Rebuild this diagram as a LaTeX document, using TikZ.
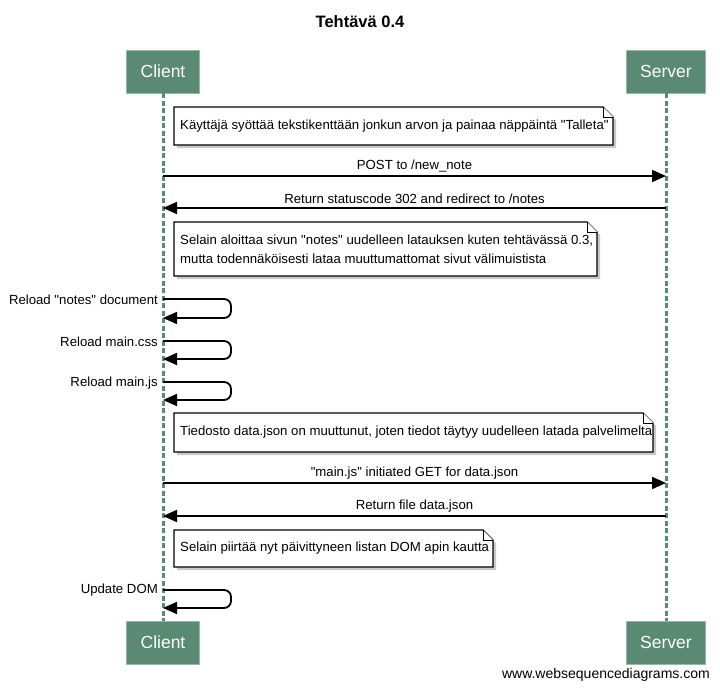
\documentclass[tikz,border=0pt]{standalone}
\usepackage{fontspec}
\setmainfont{Liberation Sans}[Ligatures=TeXOff]
\usetikzlibrary{arrows.meta,calc}
\definecolor{actorgreen}{RGB}{90,138,116}
\definecolor{actorborder}{RGB}{150,185,168}
\newcommand{\seqnote}[6]{%
  \coordinate (#1) at (#2,#3);
  \fill[notes shadow] ($(#1)+(3,3)$) -- ($(#1)+(#4+3-10,3)$) -- ($(#1)+(#4+3,13)$) -- ($(#1)+(#4+3,#5+3)$) -- ($(#1)+(3,#5+3)$) -- cycle;
  \filldraw[noteline] (#1) -- ($(#1)+(#4-10,0)$) -- ($(#1)+(#4,10)$) -- ($(#1)+(#4,#5)$) -- ($(#1)+(0,#5)$) -- cycle;
  \draw[noteline, line width=0.8pt] ($(#1)+(#4-10,0)$) -- ($(#1)+(#4-10,10)$) -- ($(#1)+(#4,10)$);
  \node[notetext] (#1t) at ($(#1)+(6,#5/2)$) {#6};
}
\begin{document}
\begin{tikzpicture}[x=1pt,y=-1pt,
  actor/.style={fill=actorgreen, draw=actorborder, line width=0.8pt, inner xsep=14pt, minimum height=43pt, text=white, font=\fontsize{17.5}{20}\selectfont},
  life/.style={actorgreen, line width=3pt, dash pattern=on 5pt off 2.5pt},
  msg/.style={line width=1.8pt, -{Triangle[length=14pt,width=12pt]}},
  lbl/.style={font=\fontsize{13.2}{15}\selectfont, inner sep=0pt},
  notetext/.style={font=\fontsize{13.2}{19}\selectfont, inner sep=0pt, anchor=west, align=left},
  noteline/.style={draw=black, fill=white, line width=1.2pt, line join=miter},
  notes shadow/.style={fill=black!35, opacity=0.6}
]
\useasboundingbox[fill=white] (0,0) rectangle (720,688);

\node[font=\bfseries\fontsize{16.5}{20}\selectfont] (title) at (360,22) {Tehtävä 0.4};

\node[actor] (ctop) at (163,71.5) {Client};
\node[actor] (stop) at (666,71.5) {Server};
\node[actor] (cbot) at (163,642.5) {Client};
\node[actor] (sbot) at (666,642.5) {Server};

\draw[life] (ctop.south) -- (cbot.north);
\draw[life] (stop.south) -- (sbot.north);

\seqnote{n1}{174}{107}{439}{38}{Käyttäjä syöttää tekstikenttään jonkun arvon ja painaa näppäintä "Talleta"}

\coordinate (c1) at (163,176); \coordinate (s1) at (666,176);
\draw[msg] (c1) -- (s1) node[midway, above=3pt, lbl] (m1) {POST to /new\_note};

\coordinate (c2) at (163,208); \coordinate (s2) at (666,208);
\draw[msg] (s2) -- (c2) node[midway, above=3pt, lbl] (m2) {Return statuscode 302 and redirect to /notes};

\seqnote{n2}{174}{222}{423}{54}{Selain aloittaa sivun "notes" uudelleen latauksen kuten tehtävässä 0.3,\\mutta todennäköisesti lataa muuttumattomat sivut välimuistista}

\coordinate (r1a) at (163,299); \coordinate (r1b) at (163,318);
\draw[msg, rounded corners=7pt] (r1a) -- ++(68,0) |- (r1b);
\node[lbl, anchor=east] (l1) at ($(r1a)+(-5,1)$) {Reload "notes" document};

\coordinate (r2a) at (163,341); \coordinate (r2b) at (163,359);
\draw[msg, rounded corners=7pt] (r2a) -- ++(68,0) |- (r2b);
\node[lbl, anchor=east] (l2) at ($(r2a)+(-5,1)$) {Reload main.css};

\coordinate (r3a) at (163,382); \coordinate (r3b) at (163,400);
\draw[msg, rounded corners=7pt] (r3a) -- ++(68,0) |- (r3b);
\node[lbl, anchor=east] (l3) at ($(r3a)+(-5,1)$) {Reload main.js};

\seqnote{n3}{174}{413}{479}{39}{Tiedosto data.json on muuttunut, joten tiedot täytyy uudelleen latada palvelimelta}

\coordinate (c3) at (163,483); \coordinate (s3) at (666,483);
\draw[msg] (c3) -- (s3) node[midway, above=3pt, lbl] (m3) {"main.js" initiated GET for data.json};

\coordinate (c4) at (163,516); \coordinate (s4) at (666,516);
\draw[msg] (s4) -- (c4) node[midway, above=3pt, lbl] (m4) {Return file data.json};

\seqnote{n4}{174}{530}{319}{37}{Selain piirtää nyt päivittyneen listan DOM apin kautta}

\coordinate (r4a) at (163,590); \coordinate (r4b) at (163,608);
\draw[msg, rounded corners=7pt] (r4a) -- ++(68,0) |- (r4b);
\node[lbl, anchor=east] (l4) at ($(r4a)+(-5,0)$) {Update DOM};

\node[font=\fontsize{14}{16}\selectfont, inner sep=0pt, anchor=base east] (wm) at (710,678) {www.websequencediagrams.com};
\end{tikzpicture}
\end{document}
